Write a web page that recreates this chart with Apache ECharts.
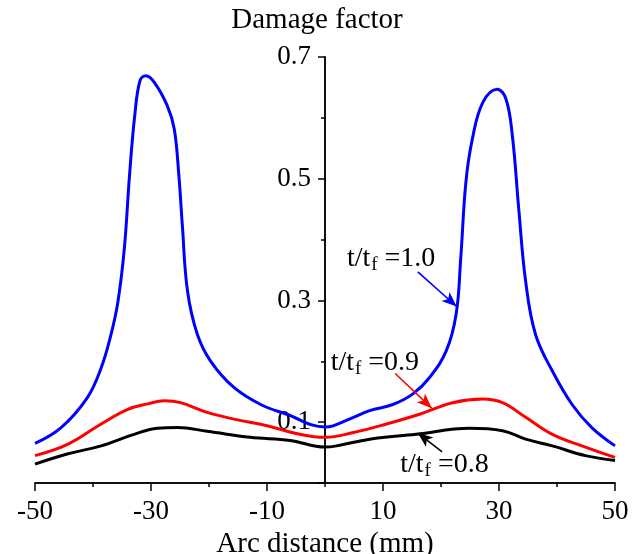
<!DOCTYPE html>
<html>
<head>
<meta charset="utf-8">
<script src="https://cdn.jsdelivr.net/npm/echarts@6/dist/echarts.min.js"></script>
<style>
  html, body { margin: 0; padding: 0; background: #fff; }
  #main { width: 644px; height: 554px; }
</style>
</head>
<body>
<div id="main"></div>
<script>
// t/tf = 1.0
const blueX = [-50, -45.5, -41, -38.6, -36.9, -35.7, -34.6, -33.7, -32.8, -31.9, -30.9, -29.4, -27.2, -26.0, -25.2, -24.6, -23.7, -22.0, -19.7, -15.7, -11.1, -6.6, 0, 1.4, 4.9, 7.7, 11.7, 15.1, 18.0, 20.9, 22.6, 23.4, 24.3, 25.4, 27.2, 29.7, 31.2, 32.3, 33.4, 34.6, 36.3, 39.2, 42.6, 46.0, 50];
const blueY = [0.065, 0.091, 0.140, 0.189, 0.244, 0.298, 0.385, 0.506, 0.604, 0.661, 0.669, 0.658, 0.620, 0.582, 0.506, 0.424, 0.315, 0.244, 0.200, 0.157, 0.129, 0.113, 0.092, 0.094, 0.108, 0.119, 0.129, 0.146, 0.173, 0.217, 0.277, 0.369, 0.495, 0.565, 0.625, 0.647, 0.631, 0.571, 0.451, 0.331, 0.244, 0.184, 0.129, 0.091, 0.061];
// t/tf = 0.9
const redX = [-50, -44.3, -38.6, -34.0, -30.6, -27.7, -24.9, -20.3, -15.7, -10.0, -4.3, 0, 4.9, 10.6, 16.3, 22.0, 27.2, 30.6, 34.6, 39.2, 44.9, 50];
const redY = [0.045, 0.064, 0.097, 0.121, 0.130, 0.135, 0.132, 0.116, 0.105, 0.094, 0.080, 0.075, 0.083, 0.097, 0.113, 0.132, 0.138, 0.132, 0.108, 0.080, 0.059, 0.042];
// t/tf = 0.8
const blackX = [-50, -44.3, -38.6, -32.9, -28.9, -25.4, -20.3, -12.9, -6.0, 0, 2.0, 7.7, 15.7, 24.9, 30.6, 34.6, 39.2, 44.9, 50];
const blackY = [0.031, 0.048, 0.061, 0.080, 0.090, 0.091, 0.085, 0.075, 0.070, 0.059, 0.061, 0.072, 0.080, 0.090, 0.086, 0.072, 0.061, 0.045, 0.037];

const xTickLabels = ['-50', '-30', '-10', '10', '30', '50'];
const yTickLabels = ['0.7', '0.5', '0.3', '0.1'];

// annotation: label position, arrow tail, arrow tip (data units)
const notes = [
  { text: '1.0', color: '#0000ff', at: [11.4, 0.368], from: [16.0, 0.347], to: [22.7, 0.290] },
  { text: '0.9', color: '#ff0000', at: [8.6, 0.197], from: [12.1, 0.180], to: [18.4, 0.123] },
  { text: '0.8', color: '#000000', at: [20.6, 0.030], from: [20.2, 0.051], to: [16.0, 0.082] }
];

const font = 'Liberation Serif';
const pairs = (xs, ys) => xs.map((x, i) => [x, ys[i]]);

function makeSeries(name, xs, ys, color, note) {
  return {
    name: name,
    type: 'line',
    data: pairs(xs, ys),
    smooth: 0.4,
    showSymbol: false,
    lineStyle: { color: color, width: 3 },
    z: 3,
    markLine: {
      silent: true,
      symbol: ['none', 'arrow'],
      symbolSize: [9, 15],
      lineStyle: { color: color, width: 1.6, type: 'solid' },
      label: { show: false },
      data: [[{ coord: note.from }, { coord: note.to }]]
    },
    markPoint: {
      silent: true,
      symbolSize: 0,
      label: {
        show: true,
        position: 'inside',
        formatter: '{a|t/t}{b|f}{a| =' + note.text + '}',
        rich: {
          a: { fontFamily: font, fontSize: 28, color: '#000' },
          b: { fontFamily: font, fontSize: 19, color: '#000', padding: [12, 0, 0, 1] }
        }
      },
      data: [{ coord: note.at }]
    }
  };
}

const chart = echarts.init(document.getElementById('main'));
chart.setOption({
  backgroundColor: '#fff',
  animation: false,
  grid: [
    { left: 35, right: 29, top: 57, bottom: 71, containLabel: false, outerBoundsMode: 'none' },
    // thin overlay grid whose left edge sits on x = 0 of the main grid
    { left: 325, width: 1, top: 57, bottom: 71, containLabel: false, outerBoundsMode: 'none' }
  ],
  xAxis: [
    {
      type: 'value', gridIndex: 0, min: -50, max: 50, interval: 10,
      axisLine: { onZero: true, lineStyle: { color: '#000', width: 1.5 } },
      axisTick: { length: 4, lineStyle: { color: '#000', width: 1.5 } },
      axisLabel: { show: false },
      splitLine: { show: false }
    },
    {
      type: 'value', gridIndex: 0, min: 0, max: 100, interval: 20, position: 'bottom',
      axisLine: { onZero: false, lineStyle: { color: '#000', width: 1.5 } },
      axisTick: { length: 8, lineStyle: { color: '#000', width: 1.5 } },
      axisLabel: {
        margin: 15, fontFamily: font, fontSize: 27, color: '#000',
        formatter: v => xTickLabels[Math.round(v / 20)] || ''
      },
      splitLine: { show: false },
      name: 'Arc distance (mm)', nameLocation: 'middle', nameGap: 41,
      nameTextStyle: { fontFamily: font, fontSize: 29, color: '#000' }
    },
    { type: 'value', gridIndex: 1, min: 0, max: 1, show: false }
  ],
  yAxis: [
    {
      type: 'value', gridIndex: 0, min: 0, max: 0.7, interval: 0.1,
      axisLine: { onZero: true, onZeroAxisIndex: 0, lineStyle: { color: '#000', width: 1.5 } },
      axisTick: { length: 4, lineStyle: { color: '#000', width: 1.5 } },
      axisLabel: { show: false },
      splitLine: { show: false },
      name: 'Damage factor', nameLocation: 'end', nameGap: 22,
      nameTextStyle: { fontFamily: font, fontSize: 29, color: '#000', padding: [0, 16, 0, 0] }
    },
    {
      // major ticks and labels at 0.1, 0.3, 0.5, 0.7 (inverse axis counted from the top)
      type: 'value', gridIndex: 1, min: 0, max: 0.7, interval: 0.2, inverse: true, position: 'left',
      axisLine: { onZero: false, lineStyle: { color: '#000', width: 1.5 } },
      axisTick: { length: 7, lineStyle: { color: '#000', width: 1.5 } },
      axisLabel: {
        margin: 14, fontFamily: font, fontSize: 27, color: '#000',
        formatter: v => (v > 0.65 ? '' : yTickLabels[Math.round(v / 0.2)] || '')
      },
      splitLine: { show: false }
    }
  ],
  series: [
    makeSeries('t/tf=1.0', blueX, blueY, '#0000ff', notes[0]),
    makeSeries('t/tf=0.9', redX, redY, '#ff0000', notes[1]),
    makeSeries('t/tf=0.8', blackX, blackY, '#000000', notes[2])
  ]
});
</script>
</body>
</html>
